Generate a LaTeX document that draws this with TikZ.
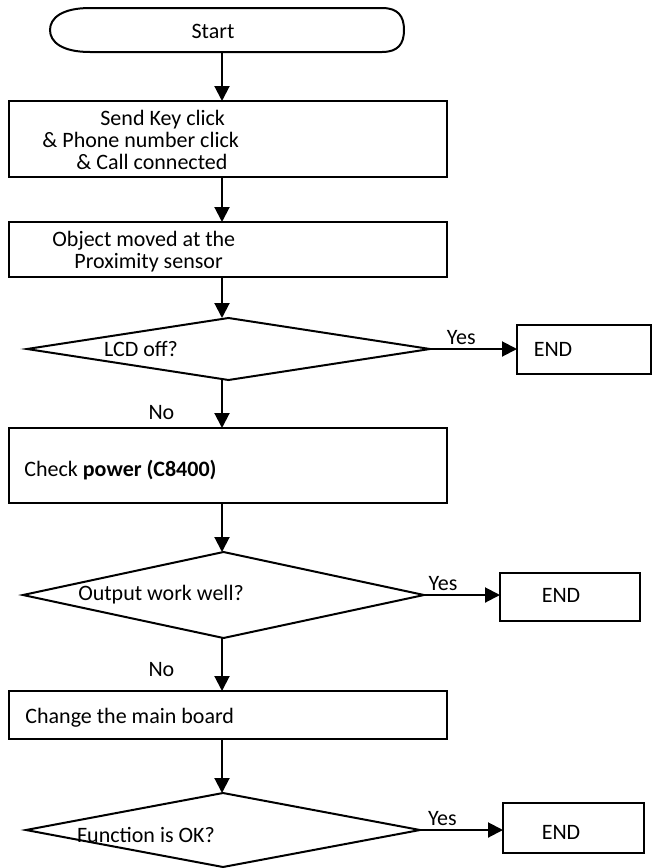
\documentclass[tikz,border=0pt]{standalone}
\usepackage{fontspec}
\setmainfont{Carlito}
\usetikzlibrary{arrows.meta,shapes.geometric,calc}
\tikzset{
  font=\fontsize{11}{11}\selectfont,
  >={Triangle[length=7.5pt,width=7.5pt]},
  flow/.style={draw=black, line width=1pt, ->},
  outline/.style={draw=black, line width=1pt},
  box/.style={outline, inner sep=0pt, outer sep=0pt},
  decision/.style={box, diamond},
  txt/.style={inner sep=0pt, anchor=west, align=left},
  note/.style={inner sep=1.5pt}
}
\begin{document}
\begin{tikzpicture}[x=0.5pt,y=-0.5pt]
  \useasboundingbox (0,0) rectangle (652,868);
  \coordinate (spine) at (222,0);

  % start and the two action boxes
  \node[inner sep=0pt, outer sep=0pt, minimum width=177pt, minimum height=22pt] (start) at (227,30) {};
  \draw[outline] ($(start.north west)+(40,0)$) -- ($(start.north east)+(-22,0)$)
    .. controls +(16,0) and +(0,-14) .. (start.east)
    .. controls +(0,14) and +(16,0) .. ($(start.south east)+(-22,0)$)
    -- ($(start.south west)+(40,0)$)
    .. controls +(-28,0) and +(0,12) .. (start.west)
    .. controls +(0,-12) and +(-28,0) .. cycle;
  \node[inner sep=0pt] (startTxt) at (213,31) {Start};
  \node[box, minimum width=219pt, minimum height=38pt] (sendkey) at (228,139) {};
  \node[txt] (sendkeyTxt) at (42,140)
    {\hspace*{29pt}Send Key click\\\& Phone number click\\\hspace*{17pt}\& Call connected};
  \node[box, minimum width=219pt, minimum height=27.5pt] (object) at (228,249.5) {};
  \node[txt] (objectTxt) at (52,251.5)
    {Object moved at the\\\hspace*{11pt}Proximity sensor};
  \draw[flow] (start.south -| spine) -- (sendkey.north -| spine);
  \draw[flow] (sendkey.south -| spine) -- (object.north -| spine);

  % -------------------------------------------------------------------
  % first check
  \node[decision, minimum width=201.5pt, minimum height=31pt] (lcd) at (228.5,349) {};
  \node[inner sep=0pt] (lcdTxt) at (141,349) {LCD off?};
  \node[box, minimum width=67pt, minimum height=24.5pt] (endA) at (584,349.5) {};
  \node[inner sep=0pt] (endATxt) at (553,349) {END};
  \draw[flow] (object.south -| spine) -- (lcd.north -| spine);
  \draw[flow] (lcd.east) -- node[above, note, pos=0.36] {Yes} (lcd.east -| endA.west);

  \node[box, minimum width=219pt, minimum height=37.5pt] (power) at (228,465.5) {};
  \node[txt] (powerTxt) at (24,470) {Check \textbf{power (C8400)}};
  \draw[flow] (lcd.south -| spine) -- node[left=20pt, pos=0.67] {No} (power.north -| spine);

  % -------------------------------------------------------------------
  % second check
  \node[decision, minimum width=200.5pt, minimum height=43pt] (output) at (223.5,595) {};
  \node[inner sep=0pt] (outputTxt) at (161,595) {Output work well?};
  \node[box, minimum width=70pt, minimum height=24pt] (endB) at (570,597) {};
  \node[inner sep=0pt] (endBTxt) at (561,595) {END};
  \draw[flow] (power.south -| spine) -- (output.north -| spine);
  \draw[flow] (output.east) -- node[above, note, pos=0.25] {Yes} (output.east -| endB.west);

  \node[box, minimum width=219pt, minimum height=24pt] (board) at (228,715) {};
  \node[txt] (boardTxt) at (25,718) {Change the main board};
  \draw[flow] (output.south -| spine) -- node[left=20pt, pos=0.6] {No} (board.north -| spine);

  % -------------------------------------------------------------------
  % final check
  \node[decision, minimum width=197pt, minimum height=37pt] (function) at (223,830) {};
  \node[inner sep=0pt] (functionTxt) at (146,835) {Function is OK?};
  \node[box, minimum width=70.5pt, minimum height=25pt] (endC) at (573.5,828) {};
  \node[inner sep=0pt] (endCTxt) at (561,832) {END};
  \draw[flow] (board.south -| spine) -- (function.north -| spine);
  \draw[flow] (function.east) -- node[above, note, pos=0.27] {Yes} (function.east -| endC.west);
\end{tikzpicture}
\end{document}
